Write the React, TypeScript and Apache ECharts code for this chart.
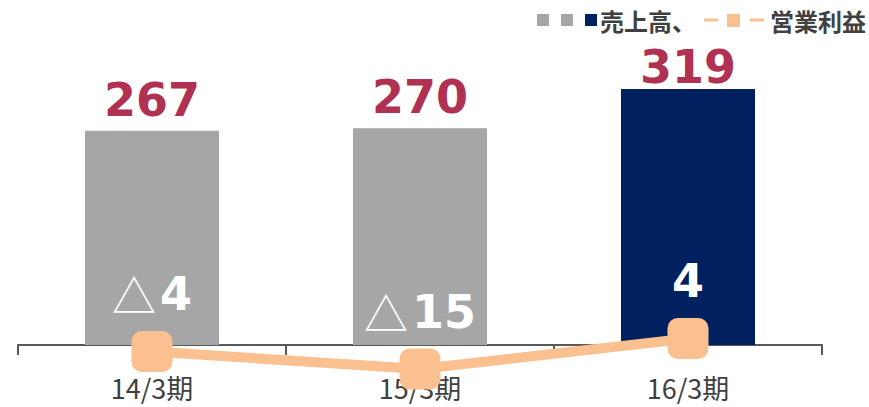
import React, { useEffect, useRef } from "react";
import * as echarts from "echarts";

const categories = ["14/3期", "15/3期", "16/3期"];
const salesValues = [267, 270, 319];
const operatingIncomeValues = [-4, -15, 4];
const barColors = ["#A6A6A6", "#A6A6A6", "#002060"];
const legendSalesLabel = "売上高、";
const legendIncomeLabel = "営業利益";

const NUM_FONT = '"DejaVu Sans", Verdana, sans-serif';
const JP_FONT = '"Noto Sans CJK JP", sans-serif';
const LINE_COLOR = "#FAC090";
const TEXT_DARK = "#404040";

export default function App() {
  const ref = useRef<HTMLDivElement>(null);

  useEffect(() => {
    if (!ref.current) return;
    const chart = echarts.init(ref.current, undefined, { renderer: "svg" });

    const legendY = 20;
    const maxSales = Math.max(...salesValues);
    const option: any = {
      animation: false,
      backgroundColor: "#ffffff",
      grid: { left: 18, right: 47, top: 64, bottom: 62, containLabel: false },
      xAxis: {
        type: "category",
        data: categories,
        boundaryGap: true,
        axisLine: { show: true, lineStyle: { color: "#595959", width: 2 } },
        axisTick: { show: true, length: 10, lineStyle: { color: "#595959", width: 2 } },
        axisLabel: {
          margin: 27,
          fontSize: 27,
          lineHeight: 30,
          color: TEXT_DARK,
          fontFamily: JP_FONT,
        },
        splitLine: { show: false },
      },
      yAxis: [
        { type: "value", min: 0, max: 350, show: false, splitLine: { show: false } },
        { type: "value", min: 0, max: 175, show: false, splitLine: { show: false } },
      ],
      series: [
        {
          name: "売上高",
          type: "bar",
          yAxisIndex: 0,
          barWidth: 134,
          z: 2,
          data: salesValues.map((v, i) => ({
            value: v,
            itemStyle: { color: barColors[i] },
            label: v === maxSales ? { distance: -1 } : undefined,
          })),
          label: {
            show: true,
            position: "top",
            distance: 8,
            fontSize: 46,
            fontWeight: "bold",
            fontFamily: NUM_FONT,
            color: "#B03152",
          },
        },
        {
          name: "営業利益",
          type: "line",
          yAxisIndex: 1,
          clip: false,
          z: 5,
          data: operatingIncomeValues,
          symbol: "roundRect",
          symbolSize: 41,
          itemStyle: { color: LINE_COLOR },
          lineStyle: { color: LINE_COLOR, width: 10 },
          label: {
            show: true,
            position: "top",
            distance: 14,
            formatter: (p: any) =>
              p.value < 0 ? "{tri|△}{num|" + -p.value + "}" : "{num|" + p.value + "}",
            rich: {
              tri: {
                fontFamily: JP_FONT,
                fontWeight: "normal",
                fontSize: 44,
                color: "#ffffff",
                padding: [0, 4, 0, 0],
              },
              num: {
                fontFamily: NUM_FONT,
                fontWeight: "bold",
                fontSize: 46,
                color: "#ffffff",
              },
            },
          },
        },
      ],
      graphic: [
        { type: "rect", shape: { x: 537, y: 14, width: 12, height: 12 }, style: { fill: "#A6A6A6" } },
        { type: "rect", shape: { x: 561, y: 14, width: 12, height: 12 }, style: { fill: "#A6A6A6" } },
        { type: "rect", shape: { x: 585, y: 14, width: 12, height: 12 }, style: { fill: "#002060" } },
        {
          type: "text",
          x: 600,
          y: legendY,
          style: {
            text: legendSalesLabel,
            font: 'bold 24px "Noto Sans CJK JP"',
            fill: TEXT_DARK,
            textVerticalAlign: "middle",
            verticalAlign: "middle",
          },
        },
        { type: "line", shape: { x1: 704, y1: legendY, x2: 718, y2: legendY }, style: { stroke: LINE_COLOR, lineWidth: 3 } },
        { type: "rect", shape: { x: 727, y: 14, width: 13, height: 13 }, style: { fill: LINE_COLOR } },
        { type: "line", shape: { x1: 750, y1: legendY, x2: 764, y2: legendY }, style: { stroke: LINE_COLOR, lineWidth: 3 } },
        {
          type: "text",
          x: 770,
          y: legendY,
          style: {
            text: legendIncomeLabel,
            font: 'bold 24px "Noto Sans CJK JP"',
            fill: TEXT_DARK,
            textVerticalAlign: "middle",
            verticalAlign: "middle",
          },
        },
      ],
    };

    chart.setOption(option);
    return () => chart.dispose();
  }, []);

  return (
    <div
      ref={ref}
      style={{ position: "fixed", left: 0, top: 0, width: 869, height: 407, background: "#fff" }}
    />
  );
}
